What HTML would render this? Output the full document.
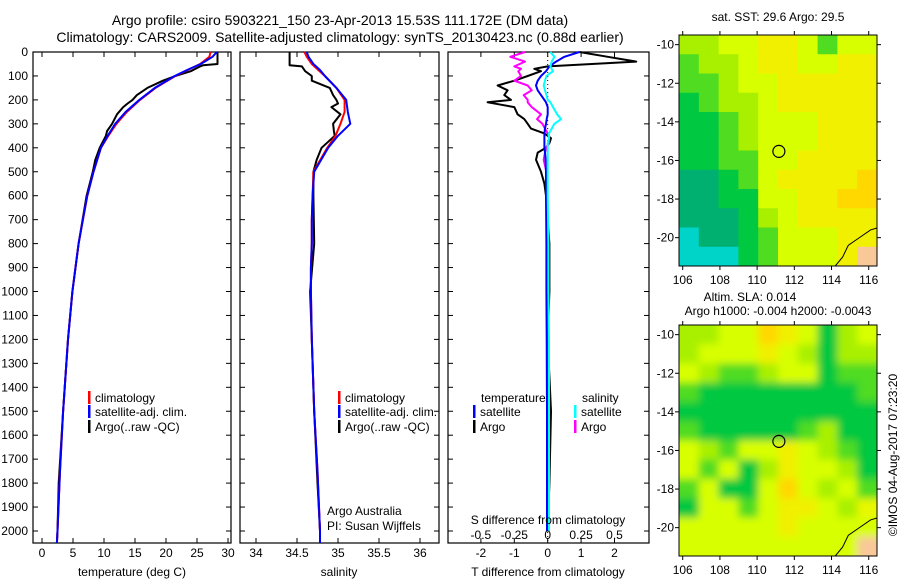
<!DOCTYPE html>
<html><head><meta charset="utf-8">
<style>
html,body{margin:0;padding:0;background:#fff;}
svg{display:block;font-family:"Liberation Sans",sans-serif;}
text{font-size:12px;fill:#000;}
.ttl{font-size:14px;}
</style></head>
<body>
<svg id="fig" width="900" height="580" viewBox="0 0 900 580" xmlns="http://www.w3.org/2000/svg">
<text class="ttl" x="340" y="25" text-anchor="middle">Argo profile: csiro 5903221_150 23-Apr-2013 15.53S 111.172E (DM data)</text>
<text class="ttl" x="340" y="42" text-anchor="middle">Climatology: CARS2009. Satellite-adjusted climatology: synTS_20130423.nc (0.88d earlier)</text>
<g id="g"></g>
</svg>
<script>
// ---- depth axis ----
const depthTicks=[0,100,200,300,400,500,600,700,800,900,1000,1100,1200,1300,1400,1500,1600,1700,1800,1900,2000];
// ---- temperature panel ----
const tTicks=[0,5,10,15,20,25,30];
const climDepth=[0,20,50,75,100,150,200,250,300,350,400,500,600,700,800,900,1000,1200,1500,1750,2000,2050];
const climT=[27.2,27,25.5,23.5,21.5,18.3,15.8,13.7,12,10.7,9.5,8.3,7.3,6.6,5.9,5.4,4.9,4.2,3.4,2.9,2.5,2.4];
const satT=[28.2,27.5,25.6,23.4,21.4,18.2,15.7,13.5,11.8,10.6,9.5,8.3,7.3,6.6,5.9,5.4,4.9,4.2,3.4,2.9,2.5,2.4];
const argoDepth=[0,50,55,60,80,100,120,150,180,200,215,230,260,300,330,350,400,450,500,600,800,1000,1200,1500,1800,2000,2050];
const argoT=[28.3,28.3,26,25.5,24,21.5,19.5,17,15.3,14.6,13.8,13.1,12.1,11.3,10.5,10.3,9.3,8.6,8.2,7.2,5.9,4.9,4.2,3.4,2.7,2.5,2.4];
// ---- salinity panel ----
const sTicks=[34,34.5,35,35.5,36];
const climS=[34.59,34.62,34.68,34.76,34.84,34.98,35.08,35.08,35.03,34.97,34.87,34.7,34.69,34.68,34.68,34.67,34.67,34.68,34.71,34.75,34.78,34.78];
const satS=[34.62,34.64,34.7,34.78,34.84,34.98,35.1,35.12,35.15,35.0,34.88,34.71,34.69,34.68,34.68,34.67,34.67,34.68,34.71,34.75,34.78,34.78];
const argoS=[34.41,34.41,34.41,34.56,34.6,34.68,34.68,34.9,34.94,34.98,35.0,34.92,35.03,34.94,34.95,34.96,34.8,34.74,34.7,34.7,34.71,34.66,34.68,34.71,34.75,34.78,34.78];
// ---- difference panel ----
const dTicks=[-2,-1,0,1,2];
const dSTicks=["-0.5","-0.25","0","0.25","0.5"];
const diffDepth=[0,20,40,60,70,80,100,120,140,160,180,200,210,230,260,280,300,320,340,360,380,400,420,450,500,550,600,800,1000,1200,1500,1800,2000];
const diffTArgo=[0.95,1.8,2.65,0,-0.4,-0.2,-0.6,-1.0,-1.5,-1.2,-1.3,-1.1,-1.8,-1.0,-0.9,-0.7,-0.6,-0.5,-0.1,0.1,0.05,-0.05,-0.3,-0.35,-0.2,-0.1,-0.05,0.05,0.05,0,0.1,0.05,0];
const diffTSat=[0.95,0.5,0.25,0.05,0,-0.05,-0.2,-0.3,-0.35,-0.3,-0.2,-0.1,-0.05,0,0,-0.03,-0.05,-0.08,-0.1,-0.1,-0.1,-0.1,-0.08,-0.06,-0.05,-0.05,-0.05,-0.04,-0.04,-0.03,-0.02,-0.02,-0.02];
const diffSArgo=[-0.17,-0.28,-0.17,-0.25,-0.2,-0.22,-0.2,-0.25,-0.15,-0.12,-0.18,-0.15,-0.15,-0.12,-0.05,-0.08,-0.04,-0.02,0,0.01,0.01,-0.01,-0.02,-0.03,-0.01,-0.01,-0.01,0,0,0,0.01,0.01,0.01];
const diffSSat=[0.02,0.05,0.03,0.02,0.03,0.04,-0.01,-0.02,-0.03,-0.02,-0.01,0,0.02,0.04,0.07,0.1,0.05,0.03,0.01,0.01,0,0,0,0,0,0,0,0.005,0.005,0.01,0.01,0.01,0.01];
// ---- maps ----
const lonTicks=[106,108,110,112,114,116];
const latTicks=[-10,-12,-14,-16,-18,-20];
const sstGrid=["llyyooygyy","gllyooyyoo","gglyyooooo","Ggllyooooo","GGglyyyooo","GGglyyyooo","GGggyyoooo","ttGgyooooO","ttGGyyooOO","tttGlyoooo","cttGgyyyoo","cccGgyyyoL"];
const slaGrid=["llyyOoyGly","lyyyoylGll","ylgglyyGgg","gGGGGGGGGg","GGGGGGGGGG","gGGGGGglGG","ylgyyoylgG","ygyGloyylG","gyGGyOylyg","GyygyooylY","yyyyyoyyyy","yyyyyyyyyL"];

const NS="http://www.w3.org/2000/svg";
const G=document.getElementById('g');
function mk(tag,attrs,parent){const e=document.createElementNS(NS,tag);for(const k in attrs)e.setAttribute(k,attrs[k]);(parent||G).appendChild(e);return e;}
function txt(x,y,s,anchor,parent){const t=mk('text',{x:x,y:y,'text-anchor':anchor||'start'},parent);t.textContent=s;return t;}

const yTop=52,yBot=543;
const yD=d=>52+d*0.2395;
const xT=v=>42+v*6.2;
const xS=v=>256+(v-34)*82;
const xDT=v=>547.7+v*33.4;
const xDS=v=>547.7+v*133.6;

function panel(name,x0,x1,xs,ticks,labels){
  const p=mk('g',{});
  
  
  const r=mk('rect',{x:x0,y:yTop,width:x1-x0,height:yBot-yTop,fill:'none',stroke:'#000','stroke-width':1.2},p);
  
  
  depthTicks.forEach(d=>{const y=yD(d);mk('line',{x1:x0,x2:x0+5,y1:y,y2:y,stroke:'#000'},p);mk('line',{x1:x1-5,x2:x1,y1:y,y2:y,stroke:'#000'},p);});
  ticks.forEach((v,i)=>{const x=xs(v);mk('line',{x1:x,x2:x,y1:yBot,y2:yBot-5,stroke:'#000'},p);mk('line',{x1:x,x2:x,y1:yTop,y2:yTop+5,stroke:'#000'},p);
    const t=txt(x,557,labels?labels[i]:String(v),'middle',p);
    
    });
  return p;
}
function line(p,xs,vals,depths,color,w,name){
  const pts=vals.map((v,i)=>xs(v).toFixed(1)+','+yD(depths[i]).toFixed(1)).join(' ');
  const l=mk('polyline',{points:pts,fill:'none',stroke:color,'stroke-width':w,'stroke-linejoin':'round'},p);
  
  
}
function legendRow(p,x,y,color,label,name){
  mk('rect',{x:x,y:y-11,width:2.5,height:13,fill:color},p);
  const t=txt(x+7,y,label,'start',p);
  
  
}

depthTicks.forEach(d=>{const t=txt(28,yD(d)+4,String(d),'end');
  
  });

const p1=panel('temperature-panel',33,231,xT,tTicks);
line(p1,xT,argoT,argoDepth,'#000',2,'argo-temperature-line');
line(p1,xT,climT,climDepth,'#f00',2,'climatology-temperature-line');
line(p1,xT,satT,climDepth,'#00f',2,'satellite-temperature-line');
legendRow(p1,88,402,'#f00','climatology','legend-climatology');
legendRow(p1,88,416,'#00f','satellite-adj. clim.','legend-satellite');
legendRow(p1,88,431,'#000','Argo(..raw -QC)','legend-argo');
let t=txt(132,576,'temperature (deg C)','middle',p1);



const p2=panel('salinity-panel',240,439,xS,sTicks);
line(p2,xS,argoS,argoDepth,'#000',2,'argo-salinity-line');
line(p2,xS,climS,climDepth,'#f00',2,'climatology-salinity-line');
line(p2,xS,satS,climDepth,'#00f',2,'satellite-salinity-line');
legendRow(p2,338,402,'#f00','climatology','legend-climatology');
legendRow(p2,338,416,'#00f','satellite-adj. clim.','legend-satellite');
legendRow(p2,338,431,'#000','Argo(..raw -QC)','legend-argo');
t=txt(327,515,'Argo Australia','start',p2);
t=txt(327,530,'PI: Susan Wijffels','start',p2);
t=txt(339,576,'salinity','middle',p2);

const p3=panel('difference-panel',448,649,xDT,dTicks);
mk('line',{x1:xDT(0),x2:xDT(0),y1:yTop,y2:yBot,stroke:'#000','stroke-dasharray':'1,3'},p3);
line(p3,xDT,diffTArgo,diffDepth,'#000',2,'argo-temperature-difference-line');
line(p3,xDS,diffSArgo,diffDepth,'#f0f',2,'argo-salinity-difference-line');
line(p3,xDT,diffTSat,diffDepth,'#00f',2,'satellite-temperature-difference-line');
line(p3,xDS,diffSSat,diffDepth,'#0ff',2,'satellite-salinity-difference-line');
t=txt(481,402,'temperature','start',p3);
t=txt(582,402,'salinity','start',p3);
legendRow(p3,473,416,'#00f','satellite','legend-temperature-satellite');
legendRow(p3,473,431,'#000','Argo','legend-temperature-argo');
legendRow(p3,574,416,'#0ff','satellite','legend-salinity-satellite');
legendRow(p3,574,431,'#f0f','Argo','legend-salinity-argo');
t=txt(548,524,'S difference from climatology','middle',p3);
dSTicks.forEach((s,i)=>{const tt=txt(xDS(parseFloat(s)),539,s,'middle',p3);
  
  });
t=txt(548,576,'T difference from climatology','middle',p3);

const COL={l:'#a8f000',y:'#d8ff00',o:'#f0f000',O:'#ffd800',Y:'#e8f800',g:'#50dc20',G:'#00c840',t:'#00b070',c:'#00d4c8',L:'#f8c898'};
const mx=lon=>679+(lon-105.8)*18.6;
const defs=mk('defs',{});const f=mk('filter',{id:'bl',x:'-0.2',y:'-0.2',width:'1.4',height:'1.4'},defs);mk('feGaussianBlur',{stdDeviation:4},f);
function map(name,oy,grid,title1,title2,blur){
  const m=mk('g',{});
  
  
  const my=lat=>oy+(-9.5-lat)*19.3;
  const x0=679,x1=877,y0=oy,y1=oy+231;
  const cw=(x1-x0)/10,ch=(y1-y0)/12;
  const pad=blur?15:0;
  const cl=mk('clipPath',{id:'c'+oy},m);mk('rect',{x:x0,y:y0,width:x1-x0,height:y1-y0},cl);
  const outer=mk('g',{'clip-path':`url(#c${oy})`},m);
  const cells=mk('g',blur?{filter:'url(#bl)'}:{},outer);
  grid.forEach((row,r)=>{for(let c=0;c<10;c++){const ch2=row[c]||'y';
    let x=x0+c*cw,y=y0+r*ch,w=cw+0.5,h=ch+0.5;
    if(c===0){x-=pad;w+=pad;} if(c===9){w+=pad;}
    if(r===0){y-=pad;h+=pad;} if(r===11){h+=pad;}
    const cell=mk('rect',{x:x,y:y,width:w,height:h,fill:COL[ch2]||'#d8ff00'},cells);
    
    }});
  mk('polygon',{points:`${mx(115.7)},${y1} ${mx(116.5)},${my(-20.9)} ${x1},${y1}`,fill:'#f8c898'},outer);
  const coast=mk('polyline',{points:`${mx(114.2)},${y1} ${mx(114.6)},${my(-21)} ${mx(114.9)},${my(-20.4)} ${mx(115.5)},${my(-20)} ${mx(116.1)},${my(-19.6)} ${x1},${my(-19.5)}`,fill:'none',stroke:'#000','stroke-width':1},outer);
  
  
  const fr=mk('rect',{x:x0,y:y0,width:x1-x0,height:y1-y0,fill:'none',stroke:'#000','stroke-width':1},m);
  
  
  const circ=mk('circle',{cx:mx(111.17),cy:my(-15.53),r:6,fill:'none',stroke:'#000','stroke-width':1.2},m);
  
  
  lonTicks.forEach(v=>{const x=mx(v);mk('line',{x1:x,x2:x,y1:y1,y2:y1+4,stroke:'#000'},m);mk('line',{x1:x,x2:x,y1:y0,y2:y0-4,stroke:'#000'},m);
    const tt=txt(x,y1+18,String(v),'middle',m);});
  latTicks.forEach(v=>{const y=my(v);mk('line',{x1:x0-4,x2:x0,y1:y,y2:y,stroke:'#000'},m);mk('line',{x1:x1,x2:x1+4,y1:y,y2:y,stroke:'#000'},m);
    const tt=txt(x0-5,y+4,String(v),'end',m);});
  if(title1){const tt=txt(title2?750:778,oy-(title2?24:14),title1,'middle',m);}
  if(title2){const tt=txt(778,oy-10,title2,'middle',m);}
}
map('sst-map',35,sstGrid,'sat. SST: 29.6 Argo: 29.5',null,false);
map('sla-map',325,slaGrid,'Altim. SLA: 0.014','Argo h1000: -0.004 h2000: -0.0043',true);
t=txt(0,0,'©IMOS 04-Aug-2017 07:23:20','middle');
t.setAttribute('transform','translate(897,455) rotate(-90)');


</script>
</body></html>
